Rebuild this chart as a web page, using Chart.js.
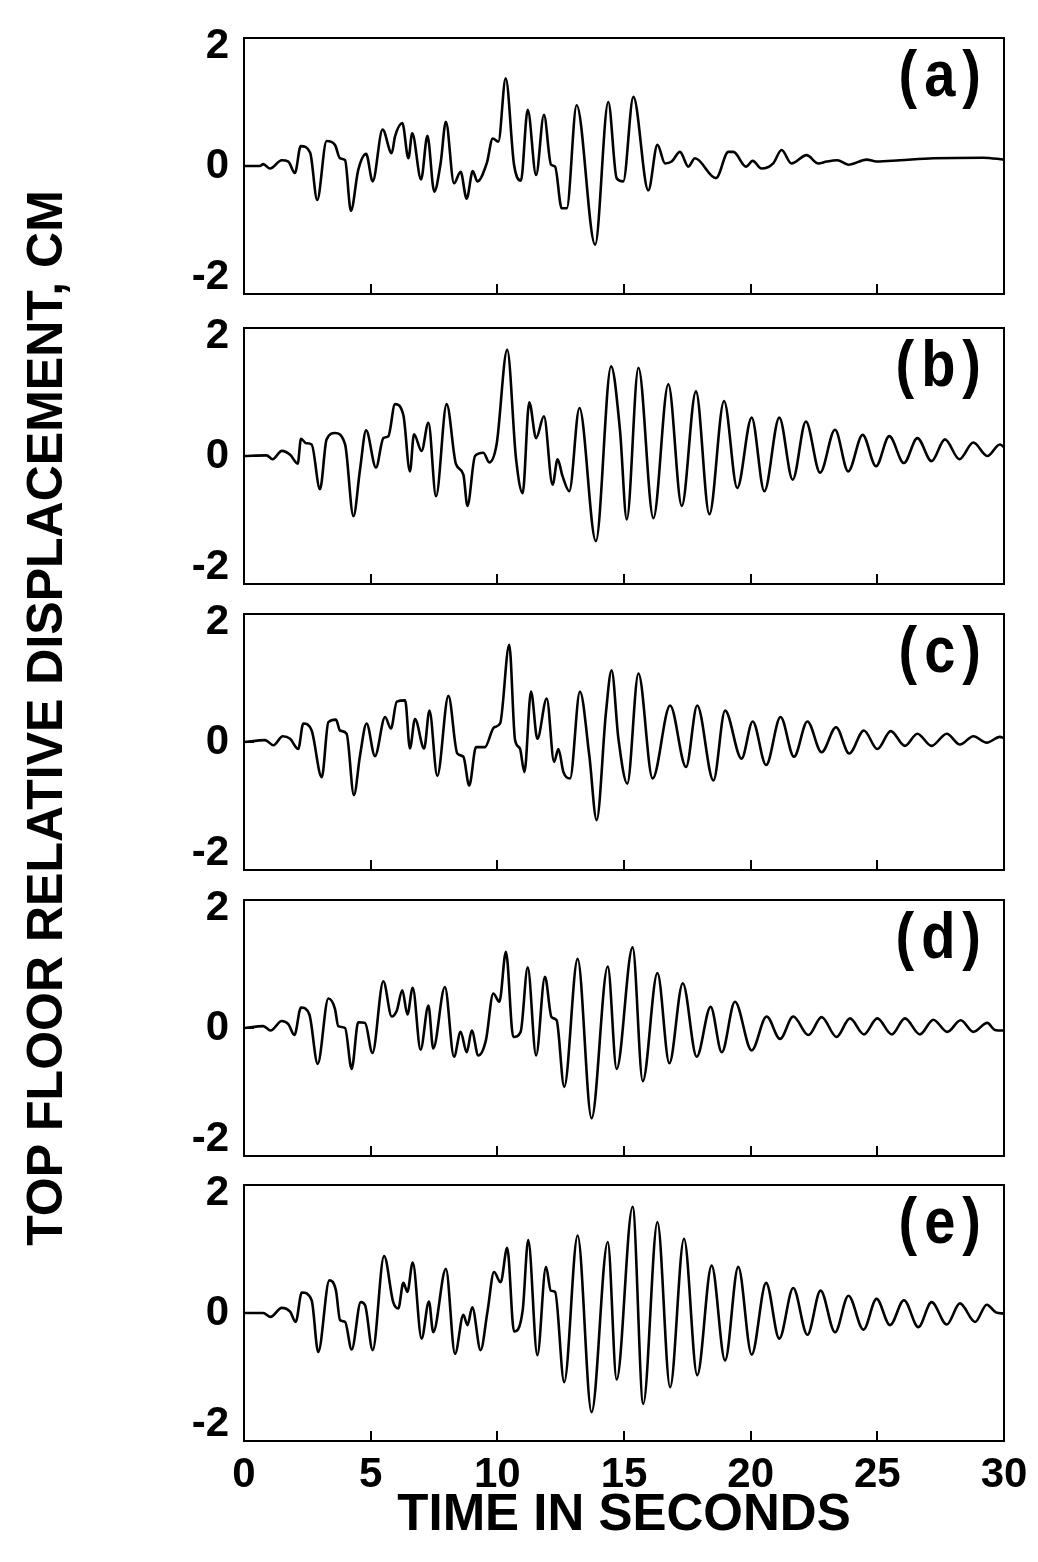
<!DOCTYPE html>
<html>
<head>
<meta charset="utf-8">
<script src="https://cdn.jsdelivr.net/npm/chart.js@4.4.0/dist/chart.umd.min.js"></script>
<style>
  html, body { margin: 0; padding: 0; background: #fff; }
  #page { position: relative; width: 1038px; height: 1562px; overflow: hidden; background: #fff; }
  #page canvas { position: absolute; left: 0; }
  #yTitle {
    position: absolute; left: 45px; top: 718px;
    transform: translate(-50%, -50%) rotate(-90deg);
    font: bold 50px "Liberation Sans", Arial, sans-serif;
    white-space: nowrap; color: #000;
  }
</style>
</head>
<body>
<div id="page">
  <div id="yTitle">TOP FLOOR RELATIVE DISPLACEMENT, CM</div>
  <canvas id="pa" width="1038" height="306" style="top:8px"></canvas>
  <canvas id="pb" width="1038" height="306" style="top:298px"></canvas>
  <canvas id="pc" width="1038" height="306" style="top:584px"></canvas>
  <canvas id="pd" width="1038" height="306" style="top:870px"></canvas>
  <canvas id="pe" width="1038" height="392" style="top:1155px"></canvas>
</div>
<script>
// time (s) and top floor displacement (cm)
const timeA = [0, 0.63, 0.76, 1.03, 1.49, 1.75, 2.01, 2.24, 2.61, 2.89,
  3.26, 3.59, 3.79, 3.99, 4.22, 4.51, 4.82, 5.08, 5.47, 5.83,
  5.96, 6.25, 6.49, 6.64, 6.99, 7.24, 7.51, 7.76, 7.97, 8.29,
  8.55, 8.79, 9.03, 9.21, 9.58, 9.82, 10.04, 10.33, 10.66, 10.93,
  11.2, 11.53, 11.84, 12.12, 12.28, 12.54, 12.74, 13.13, 13.86, 14.38,
  14.71, 14.97, 15.37, 15.96, 16.32, 16.62, 16.88, 17.21, 17.54, 17.8,
  18.63, 19.12, 19.32, 19.82, 20.08, 20.43, 20.89, 21.22, 21.61, 22.21,
  22.67, 23.0, 23.42, 23.86, 24.58, 24.97, 25.89, 27.21, 29.18, 30];
const dispA = [0, 0, 0.03, -0.04, 0.09, 0.07, -0.11, 0.31, 0.21, -0.53,
  0.39, 0.33, 0.12, 0.09, -0.70, -0.06, 0.19, -0.24, 0.57, 0.20,
  0.46, 0.67, 0.12, 0.51, -0.21, 0.47, -0.40, 0.04, 0.69, -0.27,
  -0.09, -0.51, -0.08, -0.24, 0.04, 0.43, 0.38, 1.37, 0.02, -0.23,
  0.88, -0.14, 0.80, 0.02, -0.01, -0.66, -0.66, 0.95, -1.23, 1.00,
  -0.19, -0.24, 1.08, -0.38, 0.33, 0.04, 0.07, 0.22, -0.01, 0.12,
  -0.19, 0.22, 0.22, -0.01, 0.08, -0.04, 0.04, 0.25, 0.04, 0.17,
  0.04, 0.07, 0.09, 0.02, 0.10, 0.07, 0.09, 0.12, 0.13, 0.10];

const timeB = [0, 0.89, 1.13, 1.49, 1.82, 2.12, 2.25, 2.45, 2.67, 3.0,
  3.26, 3.59, 3.99, 4.32, 4.58, 4.82, 5.21, 5.5, 5.7, 5.96,
  6.29, 6.55, 6.71, 7.01, 7.28, 7.58, 8.0, 8.37, 8.66, 8.82,
  9.12, 9.45, 9.68, 9.97, 10.39, 10.74, 11.0, 11.26, 11.53, 11.84,
  12.18, 12.38, 12.57, 12.84, 13.24, 13.89, 14.49, 14.84, 15.11, 15.57,
  16.16, 16.75, 17.28, 17.84, 18.37, 18.95, 19.47, 20.04, 20.54, 21.13,
  21.66, 22.18, 22.74, 23.33, 23.85, 24.42, 24.95, 25.47, 26.05, 26.58,
  27.14, 27.67, 28.24, 28.79, 29.34, 29.84, 30];
const dispB = [0, 0.01, -0.05, 0.08, 0.02, -0.12, 0.27, 0.20, 0.18, -0.52,
  0.26, 0.36, 0.18, -0.94, -0.21, 0.40, -0.18, 0.28, 0.31, 0.81,
  0.64, -0.24, 0.34, 0.08, 0.52, -0.63, 0.81, -0.13, -0.29, -0.78,
  0, 0.05, -0.10, 0.18, 1.66, -0.05, -0.58, 0.84, 0.28, 0.62,
  -0.45, -0.05, -0.31, -0.55, 0.75, -1.33, 1.40, 0.41, -0.99, 1.38,
  -0.97, 1.12, -0.78, 1.01, -0.91, 0.86, -0.50, 0.60, -0.55, 0.60,
  -0.37, 0.54, -0.26, 0.41, -0.24, 0.33, -0.16, 0.31, -0.11, 0.28,
  -0.08, 0.26, -0.05, 0.21, 0, 0.18, 0.14];

const timeC = [0, 0.83, 1.16, 1.53, 1.82, 2.14, 2.34, 2.67, 3.07, 3.33,
  3.63, 3.79, 4.05, 4.34, 4.58, 4.84, 5.17, 5.57, 5.8, 6.03,
  6.36, 6.55, 6.75, 7.11, 7.32, 7.63, 8.07, 8.42, 8.66, 8.89,
  9.16, 9.51, 9.87, 10.11, 10.47, 10.7, 10.89, 11.07, 11.33, 11.58,
  11.95, 12.24, 12.41, 12.61, 12.87, 13.26, 13.63, 13.92, 14.29, 14.51,
  14.78, 15.13, 15.57, 16.13, 16.82, 17.45, 17.89, 18.53, 18.99, 19.64,
  20.08, 20.61, 21.18, 21.71, 22.24, 22.8, 23.37, 23.89, 24.47, 25.0,
  25.53, 26.09, 26.58, 27.14, 27.74, 28.26, 28.79, 29.32, 29.84, 30];
const dispC = [0, 0.03, -0.05, 0.09, 0.05, -0.11, 0.29, 0.18, -0.55, 0.31,
  0.35, 0.18, 0.13, -0.83, -0.21, 0.29, -0.22, 0.39, 0.21, 0.63,
  0.65, -0.10, 0.36, -0.10, 0.49, -0.53, 0.72, -0.18, -0.23, -0.68,
  -0.08, -0.08, 0.23, 0.29, 1.52, 0.03, -0.10, -0.47, 0.79, 0.05,
  0.68, -0.31, -0.11, -0.47, -0.57, 0.79, -0.21, -1.22, 0.47, 1.12,
  0.05, -0.65, 1.07, -0.57, 0.57, -0.39, 0.57, -0.60, 0.49, -0.26,
  0.32, -0.36, 0.39, -0.23, 0.32, -0.16, 0.23, -0.18, 0.18, -0.11,
  0.17, -0.06, 0.13, -0.06, 0.13, -0.04, 0.09, -0.01, 0.08, 0.06];

const timeD = [0, 0.76, 1.05, 1.49, 1.75, 1.99, 2.25, 2.58, 2.91, 3.33,
  3.59, 3.72, 3.99, 4.25, 4.51, 4.78, 5.07, 5.5, 5.83, 6.03,
  6.25, 6.45, 6.66, 6.97, 7.28, 7.47, 7.93, 8.29, 8.55, 8.79,
  8.99, 9.25, 9.55, 9.84, 10.08, 10.34, 10.63, 10.92, 11.2, 11.53,
  11.88, 12.14, 12.34, 12.64, 13.17, 13.72, 14.36, 14.71, 15.34, 15.74,
  16.32, 16.79, 17.32, 17.87, 18.42, 18.86, 19.38, 20.04, 20.63, 21.16,
  21.68, 22.28, 22.8, 23.39, 23.92, 24.47, 25.0, 25.57, 26.09, 26.68,
  27.21, 27.76, 28.29, 28.79, 29.34, 29.64, 30];
const dispD = [0, 0.03, -0.04, 0.11, 0.06, -0.11, 0.32, 0.21, -0.56, 0.46,
  0.30, 0.03, 0, -0.64, 0.09, 0.08, -0.39, 0.73, 0.18, 0.27,
  0.59, 0.21, 0.63, -0.34, 0.35, -0.32, 0.64, -0.45, -0.06, -0.38,
  -0.04, -0.43, -0.19, 0.54, 0.41, 1.19, -0.14, -0.06, 0.95, -0.43,
  0.80, 0.17, 0.12, -0.92, 1.08, -1.41, 0.96, -0.64, 1.26, -0.83,
  0.86, -0.55, 0.70, -0.45, 0.33, -0.38, 0.41, -0.35, 0.18, -0.17,
  0.18, -0.11, 0.17, -0.14, 0.15, -0.10, 0.15, -0.10, 0.15, -0.10,
  0.13, -0.06, 0.12, -0.06, 0.08, -0.03, -0.04];

const timeE = [0, 0.76, 1.05, 1.49, 1.82, 2.04, 2.28, 2.67, 2.93, 3.37,
  3.63, 3.79, 3.99, 4.25, 4.61, 4.78, 5.08, 5.53, 5.89, 6.09,
  6.29, 6.45, 6.66, 7.01, 7.3, 7.47, 7.97, 8.33, 8.66, 8.82,
  9.01, 9.34, 9.61, 9.87, 10.13, 10.39, 10.66, 11.0, 11.22, 11.58,
  11.92, 12.11, 12.28, 12.64, 13.17, 13.72, 14.36, 14.71, 15.34, 15.76,
  16.32, 16.82, 17.37, 17.89, 18.46, 18.99, 19.51, 20.04, 20.61, 21.13,
  21.68, 22.24, 22.76, 23.33, 23.86, 24.45, 24.97, 25.5, 26.05, 26.62,
  27.14, 27.74, 28.26, 28.86, 29.32, 29.68, 30];
const dispE = [0, 0, -0.06, 0.08, 0.02, -0.14, 0.32, 0.20, -0.61, 0.51,
  0.35, -0.11, -0.14, -0.57, 0.17, 0.12, -0.58, 0.89, 0.17, 0.07,
  0.47, 0.33, 0.79, -0.40, 0.18, -0.30, 0.69, -0.64, -0.03, -0.19,
  0.09, -0.58, 0.02, 0.64, 0.48, 1.02, -0.29, 0.04, 1.14, -0.66,
  0.72, 0.35, 0.33, -1.08, 1.21, -1.55, 1.11, -1.04, 1.66, -1.42,
  1.42, -1.16, 1.16, -0.97, 0.74, -0.74, 0.72, -0.65, 0.47, -0.40,
  0.39, -0.34, 0.35, -0.30, 0.27, -0.26, 0.22, -0.19, 0.20, -0.22,
  0.17, -0.18, 0.15, -0.14, 0.13, 0.01, -0.01];

const xTicks = [0, 5, 10, 15, 20, 25, 30];
const yTicks = [-2, 0, 2];
const panelNames = ['(a)', '(b)', '(c)', '(d)', '(e)'];

const FONT = '"Liberation Sans", Arial, sans-serif';

// box round the plot area + the (a)..(e) tag in the upper right corner
const frameAndLabel = {
  id: 'frameAndLabel',
  afterDatasetsDraw(chart, args, opts) {
    const { ctx, chartArea: a } = chart;
    ctx.save();
    ctx.strokeStyle = '#000';
    ctx.lineWidth = 2;
    ctx.strokeRect(a.left, a.top, a.right - a.left, a.bottom - a.top);
    ctx.fillStyle = '#000';
    ctx.font = 'bold 56px ' + FONT;
    ctx.letterSpacing = '7px';
    ctx.textAlign = 'right';
    ctx.textBaseline = 'middle';
    ctx.translate(a.right - 16, a.top + 40);
    ctx.scale(1, 1.15);
    ctx.fillText(opts.text, 0, 0);
    ctx.restore();
  }
};

// keep the plot box where the figure has it: no extra room for edge labels
function noEdgePadding(s) {
  s.paddingTop = 0; s.paddingBottom = 0;
  s.paddingLeft = 0; s.paddingRight = 0;
}

// the figure sets its "2" a little below the top edge and "-2" above the bottom
// edge; blank lines in a multi-line label nudge them that way
function yLabel(v) {
  if (v === 2) return ['', '2'];
  if (v === -2) return ['-2', '', ''];
  return String(v);
}

function makePanel(id, times, disp, name, last) {
  const pts = times.map((t, i) => ({ x: t, y: disp[i] }));
  return new Chart(document.getElementById(id), {
    type: 'line',
    data: {
      datasets: [{
        data: pts,
        borderColor: '#000',
        borderWidth: 2.6,
        pointRadius: 0,
        fill: false,
        cubicInterpolationMode: 'monotone'
      }]
    },
    options: {
      responsive: false,
      animation: false,
      layout: { padding: { top: 30, right: 34, left: 0, bottom: 0 } },
      plugins: {
        legend: { display: false },
        tooltip: { enabled: false },
        frameAndLabel: { text: name }
      },
      scales: {
        x: {
          type: 'linear', min: 0, max: 30,
          afterBuildTicks: s => { s.ticks = xTicks.map(v => ({ value: v })); },
          grid: { drawOnChartArea: false, drawTicks: true, tickLength: -10, color: '#000', lineWidth: 2 },
          border: { display: false },
          ticks: { display: last, padding: 19, autoSkip: false, maxRotation: 0, color: '#000',
                   font: { family: FONT, weight: 'bold', size: 42 } },
          title: { display: last, text: 'TIME IN SECONDS', color: '#000', padding: 0,
                   font: { family: FONT, weight: 'bold', size: 51 } },
          afterFit: s => { s.height = last ? 106 : 20; noEdgePadding(s); }
        },
        y: {
          min: -2, max: 2,
          afterBuildTicks: s => { s.ticks = yTicks.map(v => ({ value: v })); },
          grid: { drawOnChartArea: false, drawTicks: true, tickLength: -10, color: '#000', lineWidth: 2 },
          border: { display: false },
          ticks: { padding: 25, color: '#000', callback: yLabel,
                   font: { family: FONT, weight: 'bold', size: 42, lineHeight: '17px' } },
          afterFit: s => { s.width = 244; noEdgePadding(s); }
        }
      }
    },
    plugins: [frameAndLabel]
  });
}

makePanel('pa', timeA, dispA, panelNames[0], false);
makePanel('pb', timeB, dispB, panelNames[1], false);
makePanel('pc', timeC, dispC, panelNames[2], false);
makePanel('pd', timeD, dispD, panelNames[3], false);
makePanel('pe', timeE, dispE, panelNames[4], true);
</script>
</body>
</html>
